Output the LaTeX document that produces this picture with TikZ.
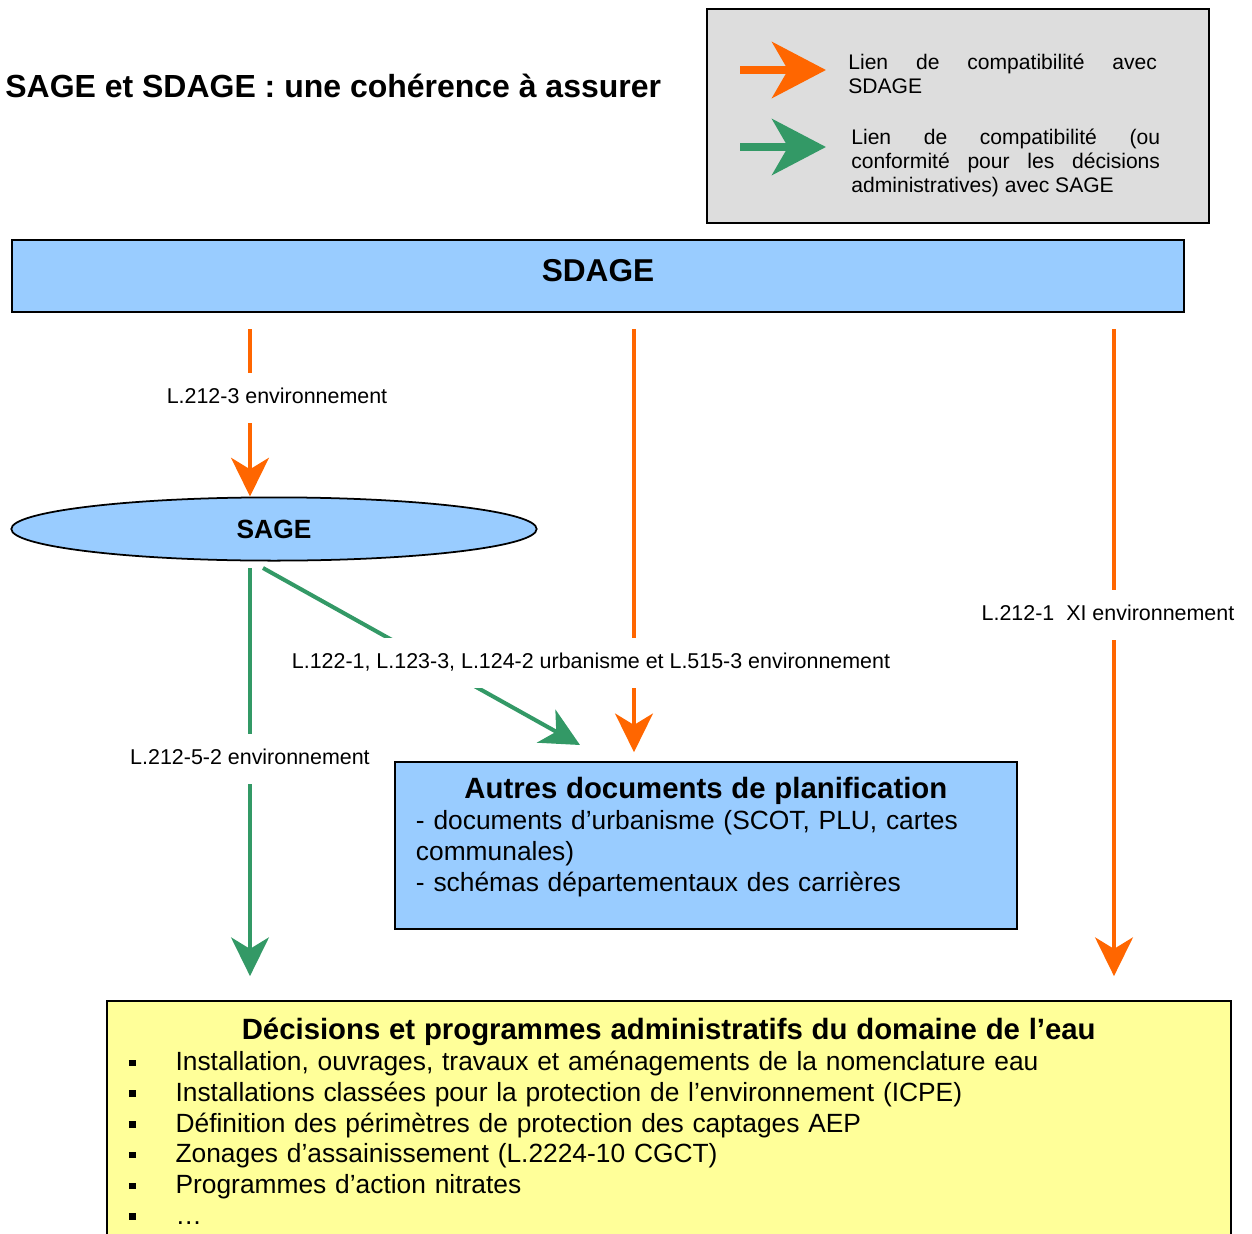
\documentclass[tikz,border=0pt]{standalone}
\usepackage{fontspec}
\setmainfont{Liberation Sans}
\usetikzlibrary{arrows.meta,shapes.geometric,calc}
\definecolor{sdorange}{HTML}{FF6600}
\definecolor{sagreen}{HTML}{339966}
\definecolor{boxblue}{HTML}{99CCFF}
\definecolor{boxyellow}{HTML}{FFFF99}
\definecolor{leggray}{HTML}{DDDDDD}
\setlength{\parindent}{0pt}
\newcommand{\sqbul}{\makebox[26.6pt][l]{\raisebox{2.6pt}{\rule{4pt}{3.7pt}}}}

\begin{document}
\begin{tikzpicture}[x=0.02cm,y=-0.02cm]
	\tikzstyle{oarrow} = [draw=sdorange, line width=2.3pt, -{Stealth[length=22pt, width=21.5pt, inset=6.5pt, sdorange]}]
	\tikzstyle{garrow} = [draw=sagreen, line width=2.3pt, -{Stealth[length=22pt, width=21.5pt, inset=6.5pt, sagreen]}]
	\tikzstyle{legarrow} = [line width=5pt, -{Stealth[length=30.6pt, width=31.7pt, inset=9pt]}]
	\tikzstyle{ref} = [fill=white, inner xsep=2pt, text height=9pt, text depth=2.5pt, inner ysep=8.3pt, font=\fontsize{12.2pt}{14pt}\selectfont]
	\tikzstyle{frame} = [draw, line width=1pt]
	\useasboundingbox (0,0) rectangle (1252,1234);
	% titre et legende
	\node[anchor=base west, inner sep=0pt, font=\fontsize{18.2pt}{21pt}\selectfont\bfseries] (title) at (5,97) {SAGE et SDAGE : une cohérence à assurer};
	\node[frame, fill=leggray, anchor=north west, minimum width=285.7pt, minimum height=121.9pt] (legend) at (706,8) {};
	\coordinate (lo1) at (740,70);
	\coordinate (lo2) at (826,70);
	\coordinate (lg1) at (740,147);
	\coordinate (lg2) at (826,147);
	\draw[legarrow, sdorange] (lo1) -- (lo2);
	\draw[legarrow, sagreen] (lg1) -- (lg2);
	\node[anchor=north west, inner sep=0pt, text width=175.7pt, align=justify, font=\fontsize{12pt}{13.6pt}\selectfont] (legtext1) at (848,54) {Lien de compatibilité avec\linebreak SDAGE};
	\node[anchor=north west, inner sep=0pt, text width=175.7pt, align=justify, font=\fontsize{12pt}{13.6pt}\selectfont] (legtext2) at (851,129) {Lien de compatibilité (ou\linebreak conformité pour les décisions\linebreak administratives) avec SAGE};
	% SDAGE et SAGE
	\node[frame, fill=boxblue, minimum width=666.7pt, minimum height=40.8pt, text depth=6.5pt, font=\fontsize{18pt}{20pt}\selectfont\bfseries] (sdage) at (598,276) {SDAGE};
	\node[frame, ellipse, fill=boxblue, minimum width=299pt, minimum height=36pt, inner sep=0pt, font=\fontsize{15pt}{17pt}\selectfont\bfseries] (sage) at (274,529) {SAGE};
	% documents
	\node[frame, fill=boxblue, anchor=north west, text width=330pt, inner xsep=12pt, inner ysep=9pt, font=\fontsize{15pt}{17.5pt}\selectfont] (autres) at (394,761) {{\centering\fontsize{16.7pt}{18pt}\selectfont\bfseries Autres documents de planification\par}
		- documents d’urbanisme (SCOT, PLU, cartes\\ communales)\\ - schémas départementaux des carrières\rule[-12.5pt]{0pt}{12.5pt}};
	\node[frame, fill=boxyellow, anchor=north west, text width=614.6pt, inner xsep=12.5pt, inner ysep=10pt, font=\fontsize{15pt}{17.5pt}\selectfont] (decisions) at (106,1000) {{\centering\fontsize{16.7pt}{18pt}\selectfont\bfseries Décisions et programmes administratifs du domaine de l’eau\par}
		\sqbul Installation, ouvrages, travaux et aménagements de la nomenclature eau\\
		\sqbul Installations classées pour la protection de l’environnement (ICPE)\\
		\sqbul Définition des périmètres de protection des captages AEP\\
		\sqbul Zonages d’assainissement (L.2224-10 CGCT)\\
		\sqbul Programmes d’action nitrates\\
		\sqbul …\rule[-12pt]{0pt}{12pt}};
	% liens
	\coordinate (o1) at (250,329);
	\coordinate (o2) at (634,329);
	\coordinate (o3) at (1114,329);
	\coordinate (g1) at (250,568);
	\coordinate (g2) at (263,568);
	\coordinate (g2end) at (580,745);
	\draw[oarrow] (o1) -- (sage.north -| o1);
	\draw[oarrow, shorten >=5pt] (o2) -- (autres.north -| o2);
	\draw[oarrow, shorten >=13.6pt] (o3) -- (decisions.north -| o3);
	\draw[garrow, shorten >=13.6pt] (g1) -- (decisions.north -| g1);
	\draw[garrow] (g2) -- (g2end);
	\node[ref] (l1) at (277,398) {L.212-3 environnement};
	\node[ref] (l2) at (591,663) {L.122-1, L.123-3, L.124-2 urbanisme et L.515-3 environnement};
	\node[ref] (l3) at (250,759) {L.212-5-2 environnement};
	\node[ref] (l4) at (1108,615) {L.212-1\ \ XI environnement};
\end{tikzpicture}
\end{document}
